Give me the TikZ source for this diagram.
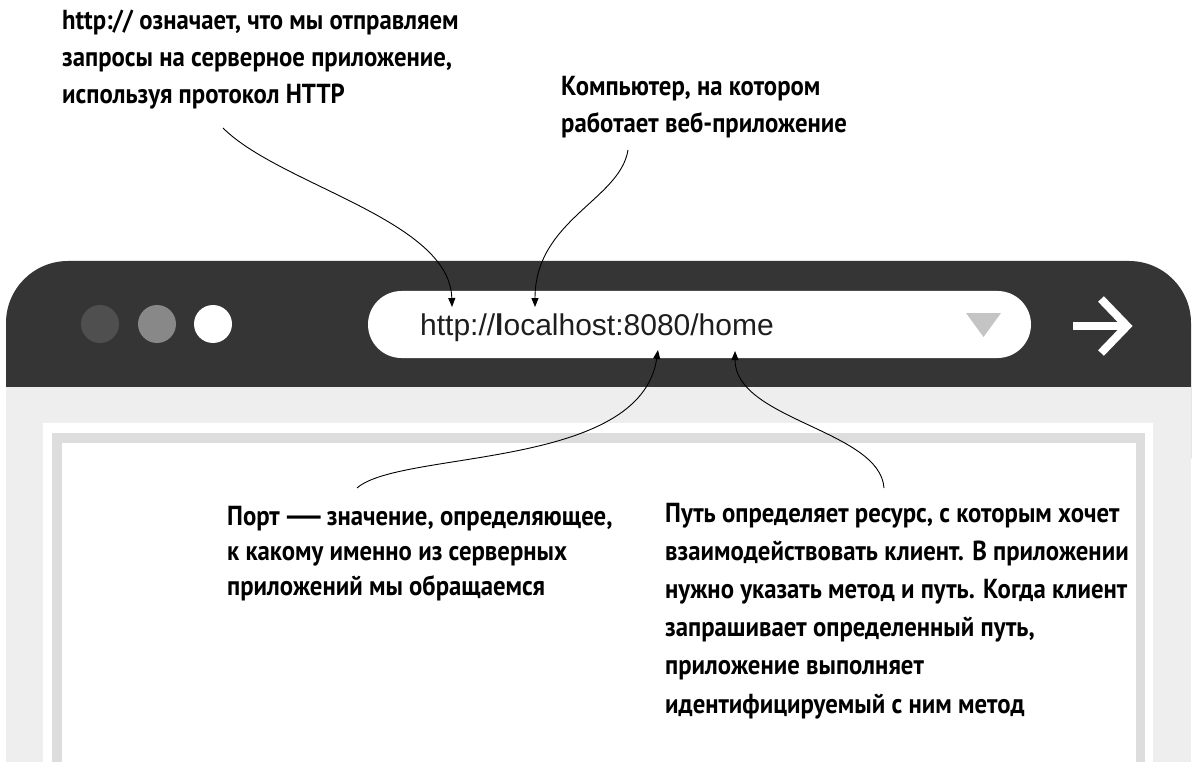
\documentclass[tikz,border=0pt]{standalone}
\usepackage{fontspec}
\setmainfont{Liberation Sans}
\newfontfamily\annfont{PT Sans}[FakeStretch=0.9]
\usetikzlibrary{arrows.meta}
\definecolor{darkbar}{HTML}{353535}
\definecolor{lightbg}{HTML}{EEEEEE}
\definecolor{framegrey}{HTML}{DDDDDD}
\definecolor{dotone}{HTML}{4F4F4F}
\definecolor{dottwo}{HTML}{888888}
\definecolor{trigrey}{HTML}{C4C4C4}
\definecolor{urltext}{HTML}{1E1E1E}
\tikzset{
  ann/.style={font=\annfont\bfseries\fontsize{27.5}{37}\selectfont, align=left, inner sep=0pt, anchor=base west, text=black},
  conn/.style={line width=0.9pt, -{Triangle[length=9pt,width=7pt]}},
}
\begin{document}
\begin{tikzpicture}[x=1pt,y=-1pt]
\useasboundingbox (0,0) rectangle (1200,762);
\fill[white] (0,0) rectangle (1200,762);
% window
\fill[darkbar, rounded corners=62pt] (6,261) rectangle (1191,520);
\fill[lightbg] (6,387) rectangle (1191,762);
\fill[white] (43,423) rectangle (1153,762);
\fill[framegrey] (52,433) rectangle (1145,762);
\fill[white] (62,443) rectangle (1136,762);
% dots
\fill[dotone] (100,324) circle (19pt);
\fill[dottwo] (157,324) circle (19pt);
\fill[white] (213,324) circle (19pt);
% url bar
\fill[white, rounded corners=33.5pt] (368,291) rectangle (1031,358);
\fill[trigrey] (966,313) -- (1001,313) -- (983.5,337) -- cycle;
\node[font=\fontsize{30}{36}\selectfont, text=urltext, inner sep=0pt, anchor=base west] (url) at (420,335) {http://{\bfseries l}ocalhost:8080/home};
% go arrow
\draw[white, line width=8pt] (1073,326) -- (1122,326);
\draw[white, line width=8pt, line join=miter] (1101,299) -- (1127,326) -- (1101,353);
% texts (anchor at baseline of last line)
\node[ann] (t1) at (62,104) {http:// означает, что мы отправляем\\запросы на серверное приложение,\\используя протокол HTTP};
\node[ann] (t2) at (561,133) {Компьютер, на котором\\работает веб-приложение};
\node[ann, font=\annfont\bfseries\fontsize{27.5}{35}\selectfont] (t3) at (227,595) {Порт\hspace{1pt}\resizebox{46pt}{\height}{—}\hspace{0pt}значение, определяющее,\\к какому именно из серверных\\приложений мы обращаемся};
\node[ann, font=\annfont\bfseries\fontsize{27.5}{38.2}\selectfont] (t4) at (665,713) {Путь определяет ресурс, с которым хочет\\взаимодействовать клиент. В приложении\\нужно указать метод и путь. Когда клиент\\запрашивает определенный путь,\\приложение выполняет\\идентифицируемый с ним метод};
% connector ends
\coordinate (s1) at (223,128);
\coordinate (e1) at (452,307);
\coordinate (s2) at (628,150);
\coordinate (e2) at (535,307);
\coordinate (s3) at (357,488);
\coordinate (e3) at (658,350);
\coordinate (s4) at (884,488);
\coordinate (e4) at (735,351);
\draw[conn] (s1) .. controls (280,185) and (450,220) .. (e1);
\draw[conn] (s2) .. controls (620,200) and (535,220) .. (e2);
\draw[conn] (s3) .. controls (400,450) and (640,470) .. (e3);
\draw[conn] (s4) .. controls (880,430) and (735,420) .. (e4);
\end{tikzpicture}
\end{document}
